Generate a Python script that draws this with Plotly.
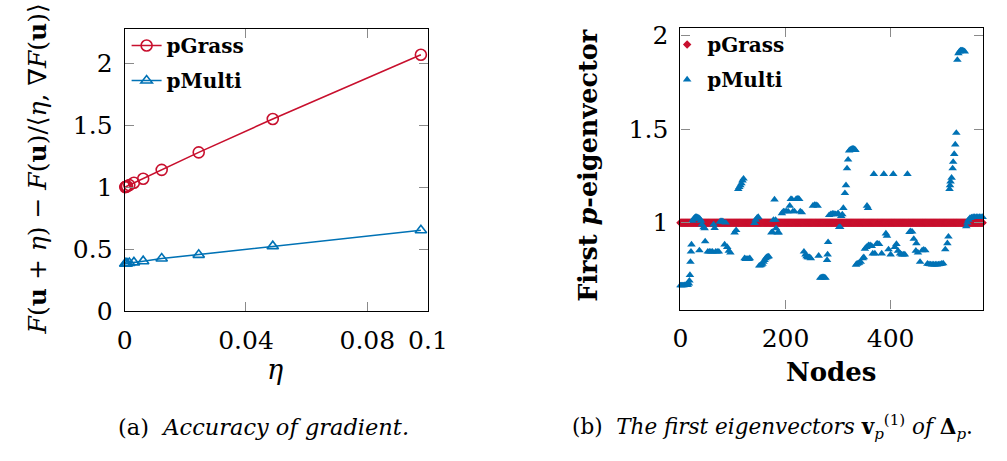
import plotly.graph_objects as go

W, H = 1007, 461
RED = "#C8102E"
BLUE = "#0072B5"
FONT = "DejaVu Serif"

# ---- (a) Accuracy of gradient ----
eta = [0.09765625, 0.048828125, 0.0244140625, 0.01220703125, 0.006103515625,
       0.0030517578125, 0.00152587890625, 0.000762939453125, 0.0003814697265625,
       0.00019073486328125]
grad_pgrass = [2.069, 1.551, 1.282, 1.141, 1.069, 1.037, 1.018, 1.009, 1.005, 1.002]
grad_pmulti = [0.654, 0.526, 0.456, 0.426, 0.405, 0.395, 0.390, 0.387, 0.385, 0.385]
a_xticks = [0, 0.04, 0.08, 0.1]
a_xticktext = ["0", "0.04", "0.08", "0.1"]
a_yticks = [0, 0.5, 1, 1.5, 2]
a_yticktext = ["0", "0.5", "1", "1.5", "2"]

# ---- (b) First eigenvectors ----
n_nodes = 576
pgrass_value = 1.0
multi_nodes = [0, 2, 4, 6, 8, 10, 12, 14, 16, 17, 18, 19, 20, 21,
               23, 25, 27, 29, 31, 33, 35, 36, 37, 39, 41, 44, 46, 47,
               52, 55, 58, 61, 63, 65, 67, 70, 73,
               75, 77, 79, 81, 84, 86, 89, 92, 95,
               103, 106,
               110, 112, 114, 116, 118, 120,
               122, 124, 126, 128, 130, 132,
               141, 143, 146, 148,
               150, 152, 154, 156, 158, 160, 162, 164, 166, 168,
               173, 175, 177, 179, 181, 182, 185, 187,
               193, 196, 199, 202, 205, 208, 210, 212, 214, 217, 220, 222, 224, 226, 228, 231,
               235, 238, 240, 242, 244, 246, 248,
               252, 255, 258, 261,
               263, 266, 268, 270, 272, 274, 276,
               279, 280, 281,
               283, 286, 289, 292, 295, 298, 300,
               302, 304,
               306, 308, 310, 313, 315, 317, 319, 321, 323, 325, 327, 329, 331, 333,
               334, 336, 338, 340, 343, 347, 349,
               351, 354, 355, 357, 358, 361, 364,
               366, 368, 370,
               373, 375, 378, 383, 387, 391, 393, 396, 400, 405, 408, 411, 414, 418, 421, 424, 427, 432,
               436, 438, 441, 444, 448, 449, 452, 456,
               460, 463, 466,
               470, 473, 476, 479, 482, 485, 488, 491, 494, 497, 500,
               504, 508, 510,
               512, 513, 514, 516, 518, 519, 521, 523, 525, 527, 529, 531, 533, 535, 537, 539, 541,
               544, 546, 548, 551, 554, 557, 560, 563, 566, 569, 572, 575]
multi_vals = [0.665, 0.665, 0.665, 0.665, 0.666, 0.666, 0.667, 0.668, 0.675, 0.69, 0.72, 0.79, 0.845, 0.883,
              1.01, 1.02, 1.027, 1.03, 1.03, 1.028, 1.025, 0.852, 1.02, 1.01, 0.99, 0.975, 0.97, 0.90,
              0.845, 0.845, 0.845, 0.845, 0.99, 0.971, 0.845, 0.845, 0.845,
              1.005, 1.008, 1.008, 1.006, 0.883, 1.0, 0.87, 0.85, 0.84,
              0.947, 0.96,
              1.18, 1.19, 1.2, 1.21, 1.225, 1.235,
              0.81, 0.806, 0.806, 0.806, 0.806, 0.81,
              0.998, 1.015, 1.027, 1.03,
              0.77, 0.772, 0.775, 0.78, 0.79, 0.80, 0.81, 0.815, 0.818, 0.82,
              0.947, 0.95, 1.015, 1.124, 1.015, 0.97, 0.947, 0.947,
              1.05, 1.06, 1.06, 1.06, 1.06, 1.09, 1.126, 1.126, 1.06, 1.06, 1.126, 1.128, 1.128, 1.126, 1.06, 1.055,
              0.845, 0.83, 0.82, 0.815, 0.815, 0.815, 0.81,
              1.09, 1.095, 1.095, 1.09,
              0.823, 0.705, 0.707, 0.708, 0.708, 0.707, 0.705,
              0.80, 0.83, 0.896,
              1.04, 1.045, 1.048, 1.048, 1.045, 1.044, 1.05,
              0.976, 0.976,
              1.035, 1.044, 1.078, 1.158, 1.20, 1.29, 1.337, 1.385, 1.39, 1.393, 1.395, 1.395, 1.393, 1.388,
              0.775, 0.78, 0.782, 0.785, 0.79, 0.81, 0.815,
              0.86, 0.87, 1.09, 1.078, 0.88, 0.88, 0.875,
              0.835, 1.26, 0.835,
              0.886, 0.888, 0.886, 0.835, 1.26, 0.942, 0.93, 0.857, 0.83, 1.26, 0.87, 0.886, 0.85, 0.835, 0.83, 0.83, 0.83, 1.26,
              0.95, 0.954, 0.952, 0.913, 0.85, 0.89, 0.84, 0.79,
              0.852, 0.855, 0.852,
              0.78, 0.778, 0.777, 0.776, 0.776, 0.776, 0.776, 0.777, 0.778, 0.78, 0.782,
              0.857, 0.89, 0.925,
              1.18, 1.2, 1.22, 1.24, 1.29, 1.325, 1.367, 1.418, 1.48, 1.87, 1.905, 1.915, 1.92, 1.92, 1.92, 1.918, 1.915,
              0.98, 1.0, 1.015, 1.025, 1.028, 1.03, 1.03, 1.03, 1.03, 1.03, 1.03, 1.03]
b_xticks = [0, 200, 400]
b_yticks = [1, 1.5, 2]
b_yticktext = ["1", "1.5", "2"]

grass_nodes = list(range(n_nodes))
grass_vals = [pgrass_value for _ in grass_nodes]

fig = go.Figure()

fig.add_trace(go.Scatter(x=eta, y=grad_pgrass, mode="lines+markers", name="pGrass",
                         line=dict(color=RED, width=1.6),
                         marker=dict(symbol="circle-open", size=11, color=RED, line=dict(width=1.6)),
                         cliponaxis=False, xaxis="x", yaxis="y", legend="legend", legendgroup="a1"))
fig.add_trace(go.Scatter(x=eta, y=grad_pmulti, mode="lines+markers", name="pMulti",
                         line=dict(color=BLUE, width=1.6),
                         marker=dict(symbol="triangle-up-open", size=10, color=BLUE, line=dict(width=1.6)),
                         cliponaxis=False, xaxis="x", yaxis="y", legend="legend", legendgroup="a2"))

fig.add_trace(go.Scatter(x=grass_nodes, y=grass_vals, mode="markers", name="pGrass",
                         marker=dict(symbol="diamond", size=6.5, color=RED, line=dict(width=0)),
                         cliponaxis=False, xaxis="x2", yaxis="y2", legend="legend2", legendgroup="b1"))
fig.add_trace(go.Scatter(x=multi_nodes, y=multi_vals, mode="markers", name="pMulti",
                         marker=dict(symbol="triangle-up", size=7.5, color=BLUE, line=dict(width=0)),
                         cliponaxis=False, xaxis="x2", yaxis="y2", legend="legend2", legendgroup="b2"))

def px(x):
    return x / W

def py(y):
    return 1 - y / H

axis_common = dict(showline=True, linecolor="black", linewidth=1.2, mirror="allticks",
                   ticks="inside", ticklen=9, tickcolor="#8a8a8a", tickwidth=1.2,
                   showgrid=False, zeroline=False,
                   tickfont=dict(family=FONT, size=25, color="black"))

fig.update_layout(
    width=W, height=H, autosize=False, margin=dict(l=0, r=0, t=0, b=0),
    paper_bgcolor="white", plot_bgcolor="white",
    showlegend=True,
    xaxis=dict(domain=[px(120), px(432)], range=[0, 0.1], tickvals=a_xticks, ticktext=a_xticktext,
               anchor="y", ticklabelstandoff=6, **axis_common),
    yaxis=dict(domain=[py(320), py(24)], range=[0, 2.277], tickvals=a_yticks, ticktext=a_yticktext,
               anchor="x", ticklabelstandoff=6, **axis_common),
    xaxis2=dict(domain=[px(691.7), px(1003)], range=[0, 576], tickvals=b_xticks,
                anchor="y2", ticklabelstandoff=6, **axis_common),
    yaxis2=dict(domain=[py(318), py(23)], range=[0.536, 2.041], tickvals=b_yticks, ticktext=b_yticktext,
                anchor="x2", ticklabelstandoff=6, **axis_common),
    legend=dict(x=px(122), y=py(21), xanchor="left", yanchor="top", bgcolor="rgba(0,0,0,0)",
                font=dict(family=FONT, size=20, color="black", weight="bold"),
                traceorder="grouped", tracegroupgap=6, itemwidth=30),
    legend2=dict(x=px(678), y=py(20), xanchor="left", yanchor="top", bgcolor="rgba(0,0,0,0)",
                 font=dict(family=FONT, size=20, color="black", weight="bold"),
                 traceorder="grouped", tracegroupgap=6, itemwidth=30),
)

ann = [
    dict(text="<i>F</i>(<b>u</b> + <i>η</i>) − <i>F</i>(<b>u</b>)/⟨<i>η</i>, ∇<i>F</i>(<b>u</b>)⟩",
         x=px(30), y=py(171), textangle=-90, font=dict(family=FONT, size=25)),
    dict(text="<i>η</i>", x=px(275), y=py(381), font=dict(family=FONT, size=27)),
    dict(text="(a)  <i>Accuracy of gradient.</i>", x=px(263), y=py(441), font=dict(family=FONT, size=22.5)),
    dict(text="<b>First <i>p</i>-eigenvector</b>", x=px(597), y=py(167), textangle=-90,
         font=dict(family=FONT, size=25.5)),
    dict(text="<b>Nodes</b>", x=px(847), y=py(383), font=dict(family=FONT, size=26)),
    dict(text="(b)  <i>The first eigenvectors </i><b>v</b><sub><i>p</i></sub><sup>(1)</sup><i> of </i><b>Δ</b><sub><i>p</i></sub>.",
         x=px(578), y=py(441), xanchor="left", font=dict(family=FONT, size=21.5)),
]
for a in ann:
    a.setdefault("xanchor", "center")
    fig.add_annotation(xref="paper", yref="paper", showarrow=False, yanchor="middle",
                       **{k: v for k, v in a.items()})
    fig.layout.annotations[-1].font.color = "black"

fig.write_html("out.html")
